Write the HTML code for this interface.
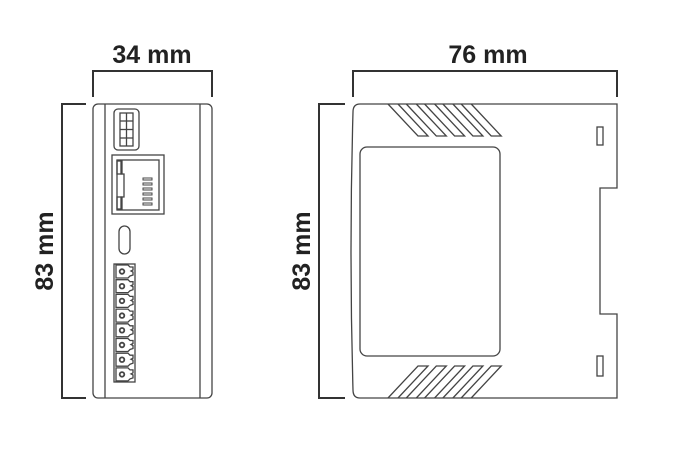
<!DOCTYPE html>
<html><head><style>html,body{margin:0;padding:0;background:#fff}svg{display:block}</style></head>
<body>
<svg width="697" height="465" viewBox="0 0 697 465" xmlns="http://www.w3.org/2000/svg">
<g fill="none" stroke="#333" stroke-width="2">
<path d="M93 97 V71 H212 V97"/>
<path d="M86 104 H62 V398 H86"/>
<path d="M353 97 V71 H617 V97"/>
<path d="M345 104 H319 V398 H345"/>
</g>
<g font-family="Liberation Sans, sans-serif" font-weight="bold" font-size="25" fill="#222" text-anchor="middle">
<text x="152" y="63">34 mm</text>
<text x="488" y="63">76 mm</text>
<text transform="translate(53 251) rotate(-90)">83 mm</text>
<text transform="translate(310 251) rotate(-90)">83 mm</text>
</g>
<g fill="none" stroke="#444" stroke-width="1.3">
<rect x="93" y="104" width="119" height="294" rx="5"/>
<line x1="105" y1="104" x2="105" y2="398"/>
<line x1="200" y1="104" x2="200" y2="398"/>
<rect x="114" y="109" width="25" height="41" rx="4"/>
<rect x="120" y="113" width="13" height="33"/>
<line x1="126.5" y1="113" x2="126.5" y2="146"/>
<line x1="120" y1="121" x2="133" y2="121"/><line x1="120" y1="129.5" x2="133" y2="129.5"/><line x1="120" y1="138" x2="133" y2="138"/>
<rect x="112" y="155" width="52" height="59"/>
<rect x="117" y="160" width="42" height="50"/>
<path d="M121 160 V174 H124 V197 H121 V210"/>
<rect x="117" y="161" width="5" height="13"/><rect x="117" y="197" width="5" height="12"/>
<g stroke-width="1"><rect x="143" y="178" width="9" height="2"/><rect x="143" y="183" width="9" height="2"/><rect x="143" y="188" width="9" height="2"/><rect x="143" y="193" width="9" height="2"/><rect x="143" y="198" width="9" height="2"/><rect x="143" y="203" width="9" height="2"/></g>
<rect x="119" y="226" width="11" height="28" rx="5.5"/>
<rect x="114" y="264" width="21" height="118"/>
<g id="t">
<path d="M116 265 H128 L130 267 L133 267 V270 L131 271 L133 272 V275 L130 276 L128 278 H116 Z"/>
<circle cx="122" cy="271.5" r="2.3" stroke-width="1.8"/>
</g>
<use href="#t" y="14.7"/><use href="#t" y="29.4"/><use href="#t" y="44.1"/><use href="#t" y="58.8"/><use href="#t" y="73.5"/><use href="#t" y="88.2"/><use href="#t" y="102.9"/>
<path d="M360 104 H617 V188 H600 V314 H617 V398 H360 Q353 398 353 390 Q349 251 353 112 Q353 104 360 104 Z"/>
<rect x="360" y="147" width="140" height="209" rx="7"/>
<rect x="597" y="127" width="6" height="18"/>
<rect x="597" y="356" width="6" height="20"/>
<g id="v"><path d="M388 104 L418 136 H428 L398 104"/></g>
<use href="#v" x="18.3"/><use href="#v" x="36.6"/><use href="#v" x="54.9"/><use href="#v" x="73.2"/>
<g id="w"><path d="M388 398 L418 366 H428 L398 398"/></g>
<use href="#w" x="18.3"/><use href="#w" x="36.6"/><use href="#w" x="54.9"/><use href="#w" x="73.2"/>
</g>
</svg>
</body></html>
